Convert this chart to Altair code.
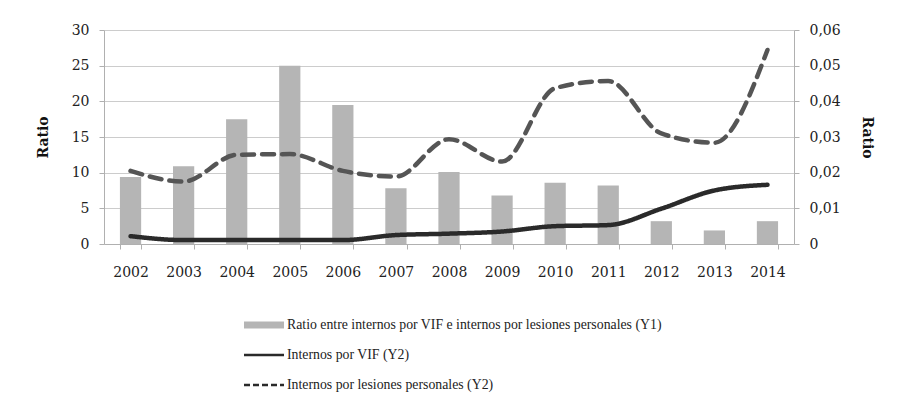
import altair as alt
import pandas as pd

years = [str(y) for y in range(2002, 2015)]
ratio = [9.4, 10.9, 17.5, 25.0, 19.5, 7.8, 10.1, 6.8, 8.6, 8.2, 3.2, 1.9, 3.2]
vif = [0.0022, 0.0011, 0.0011, 0.0011, 0.0011, 0.0025, 0.0029, 0.0035, 0.0050, 0.0053, 0.0099, 0.0150, 0.0166]
lesiones = [0.0205, 0.0175, 0.0250, 0.0252, 0.0205, 0.0189, 0.0294, 0.0231, 0.0437, 0.0457, 0.0310, 0.0284, 0.0544]
legend_labels = [
    "Ratio entre internos por VIF e internos por lesiones personales (Y1)",
    "Internos por VIF (Y2)",
    "Internos por lesiones personales (Y2)",
]
series_names = ["vif", "lesiones"]
y1_ticks = [0, 5, 10, 15, 20, 25, 30]
y2_ticks = [0, 0.01, 0.02, 0.03, 0.04, 0.05, 0.06]

df = pd.DataFrame({"year": years, "ratio": ratio, "vif": vif, "lesiones": lesiones})
leg_df = pd.DataFrame({"label": legend_labels})

FONT = "DejaVu Serif"
AX = "#b0b0b0"

x_enc = alt.X(
    "year:N",
    sort=years,
    scale=alt.Scale(paddingInner=0.6, paddingOuter=0.3),
    axis=alt.Axis(
        title=None, labelAngle=0, tickBand="extent", domainColor=AX, tickColor=AX,
        tickSize=5, labelPadding=16, labelFont=FONT, labelFontSize=14, labelColor="#222",
    ),
)

bars = alt.Chart(df).mark_bar(color="#b5b5b5").encode(
    x=x_enc,
    y=alt.Y(
        "ratio:Q",
        scale=alt.Scale(domain=[0, 30], nice=False),
        axis=alt.Axis(
            values=y1_ticks, title="Ratio", grid=True, gridColor="#cccccc", gridWidth=1.2,
            domainColor=AX, tickColor=AX, tickSize=5, labelPadding=10,
            labelFont=FONT, labelFontSize=14, labelColor="#222",
            titleFont=FONT, titleFontSize=14, titleFontWeight="bold", titleColor="#111",
            titlePadding=21,
        ),
    ),
)

lines = alt.Chart(df).transform_fold(series_names, as_=["serie", "valor"]).mark_line(
    strokeWidth=4.5, interpolate="monotone", strokeCap="round"
).encode(
    x=alt.X("year:N", sort=years),
    y=alt.Y(
        "valor:Q",
        scale=alt.Scale(domain=[0, 0.06], nice=False),
        axis=alt.Axis(
            values=y2_ticks, orient="right", title="Ratio", grid=False,
            labelExpr="datum.value == 0 ? '0' : replace(format(datum.value, '.2f'), '.', ',')",
            domainColor=AX, tickColor=AX, tickSize=5, labelPadding=10,
            labelFont=FONT, labelFontSize=14, labelColor="#222",
            titleFont=FONT, titleFontSize=14, titleFontWeight="bold", titleColor="#111",
            titlePadding=19,
        ),
    ),
    color=alt.Color("serie:N", scale=alt.Scale(domain=series_names, range=["#2a2a2a", "#555555"]), legend=None),
    strokeDash=alt.StrokeDash("serie:N", scale=alt.Scale(domain=series_names, range=[[1, 0], [12, 8]]), legend=None),
)

top = alt.layer(bars, lines).resolve_scale(y="independent").properties(width=690, height=214)

ly = alt.Y("label:N", sort=legend_labels, axis=None, scale=alt.Scale(type="point", padding=0.5))
sym_bar = alt.Chart(leg_df).transform_filter(alt.datum.label == legend_labels[0]).mark_rule(
    color="#b5b5b5", strokeWidth=7
).encode(x=alt.value(140), x2=alt.value(180), y=ly)
sym_solid = alt.Chart(leg_df).transform_filter(alt.datum.label == legend_labels[1]).mark_rule(
    color="#2a2a2a", strokeWidth=2.5
).encode(x=alt.value(140), x2=alt.value(180), y=ly)
sym_dash = alt.Chart(leg_df).transform_filter(alt.datum.label == legend_labels[2]).mark_rule(
    color="#2a2a2a", strokeWidth=2.5, strokeDash=[6, 3]
).encode(x=alt.value(140), x2=alt.value(180), y=ly)
txt = alt.Chart(leg_df).mark_text(
    align="left", baseline="middle", font="Liberation Serif", fontSize=13.8, color="#222"
).encode(x=alt.value(183), y=ly, text="label:N")
legend = alt.layer(sym_bar, sym_solid, sym_dash, txt).properties(width=690, height=90)

chart = alt.vconcat(top, legend, spacing=31).configure(
    padding={"left": 28, "top": 15, "right": 5, "bottom": 5}
).configure_view(stroke=None)

chart.save("out.html", embed_options={"renderer": "svg", "actions": False})
